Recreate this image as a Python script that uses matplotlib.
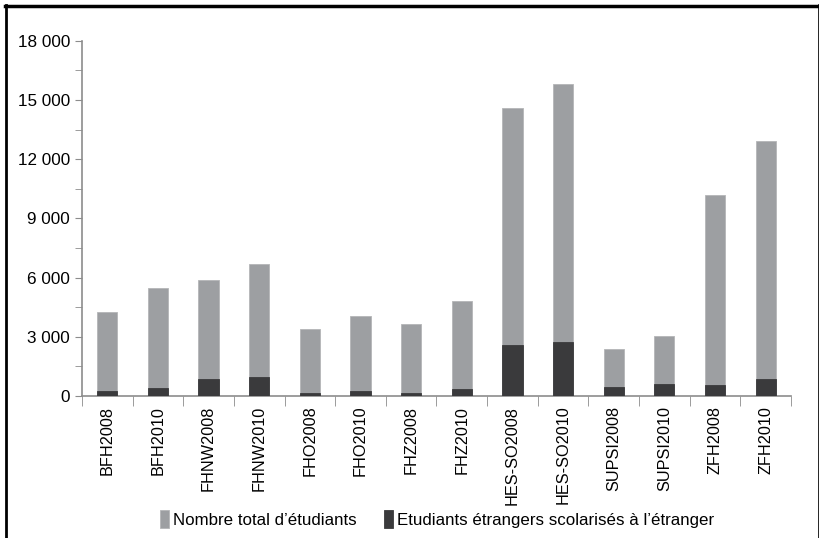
import numpy as np
import matplotlib.pyplot as plt
from matplotlib.lines import Line2D
from matplotlib.ticker import FuncFormatter, MultipleLocator

plt.rcParams['font.family'] = ['Liberation Sans', 'DejaVu Sans']

categories = ["BFH2008", "BFH2010", "FHNW2008", "FHNW2010", "FHO2008", "FHO2010",
              "FHZ2008", "FHZ2010", "HES-SO2008", "HES-SO2010", "SUPSI2008",
              "SUPSI2010", "ZFH2008", "ZFH2010"]
total = [4280, 5490, 5870, 6680, 3400, 4070, 3630, 4820, 14600, 15790, 2370,
         3030, 10180, 12900]
etrangers = [250, 390, 850, 980, 170, 250, 170, 340, 2590, 2740, 470, 630,
             540, 850]

gray = "#9d9fa2"
dark = "#3a3a3c"
axis_col = "#8c8c8c"

fig = plt.figure(figsize=(8.2, 5.38), dpi=100)
ax = fig.add_axes([0.1, 0.264, 0.8646, 0.66])

x = np.arange(len(categories))
ax.bar(x, total, width=0.4, color=gray, edgecolor="#b4b5b7", linewidth=0.6,
       label="Nombre total d\u2019\u00e9tudiants", zorder=2)
ax.bar(x, etrangers, width=0.4, color=dark, edgecolor=dark, linewidth=0.6,
       label="Etudiants \u00e9trangers scolaris\u00e9s \u00e0 l\u2019\u00e9tranger", zorder=3)

ax.set_xlim(-0.5, len(categories) - 0.5)
ax.set_ylim(0, 18000)
ax.yaxis.set_major_locator(MultipleLocator(3000))
ax.yaxis.set_minor_locator(MultipleLocator(1500))
ax.yaxis.set_major_formatter(FuncFormatter(lambda v, p: f"{int(v):,}".replace(",", " ")))

ax.set_xticks(x)
ax.set_xticklabels(categories, rotation=90, fontsize=11.7)
ax.set_xticks(np.arange(-0.5, len(categories)), minor=True)
ax.tick_params(axis="x", which="major", length=0, pad=7)
ax.tick_params(axis="x", which="minor", length=7, color=axis_col)
ax.tick_params(axis="y", which="both", length=5, color=axis_col, labelsize=12.3)

for s in ["top", "right"]:
    ax.spines[s].set_visible(False)
for s in ["left", "bottom"]:
    ax.spines[s].set_color(axis_col)
    ax.spines[s].set_linewidth(1.2)

ax.legend(loc="center", bbox_to_anchor=(0.533, 0.035), bbox_transform=fig.transFigure,
          ncol=2, frameon=False, fontsize=12.2, handlelength=0.55, handleheight=1.3,
          handletextpad=0.25, columnspacing=1.6)

# cadre autour de la figure
fig.add_artist(Line2D([0.006, 0.9995], [0.9895, 0.9895], color="black", lw=2.5))
fig.add_artist(Line2D([0.007, 0.007], [0.0, 0.99], color="black", lw=2))
fig.add_artist(Line2D([0.999, 0.999], [0.0, 0.99], color="black", lw=1.2))

plt.savefig("out.png", dpi=100)
